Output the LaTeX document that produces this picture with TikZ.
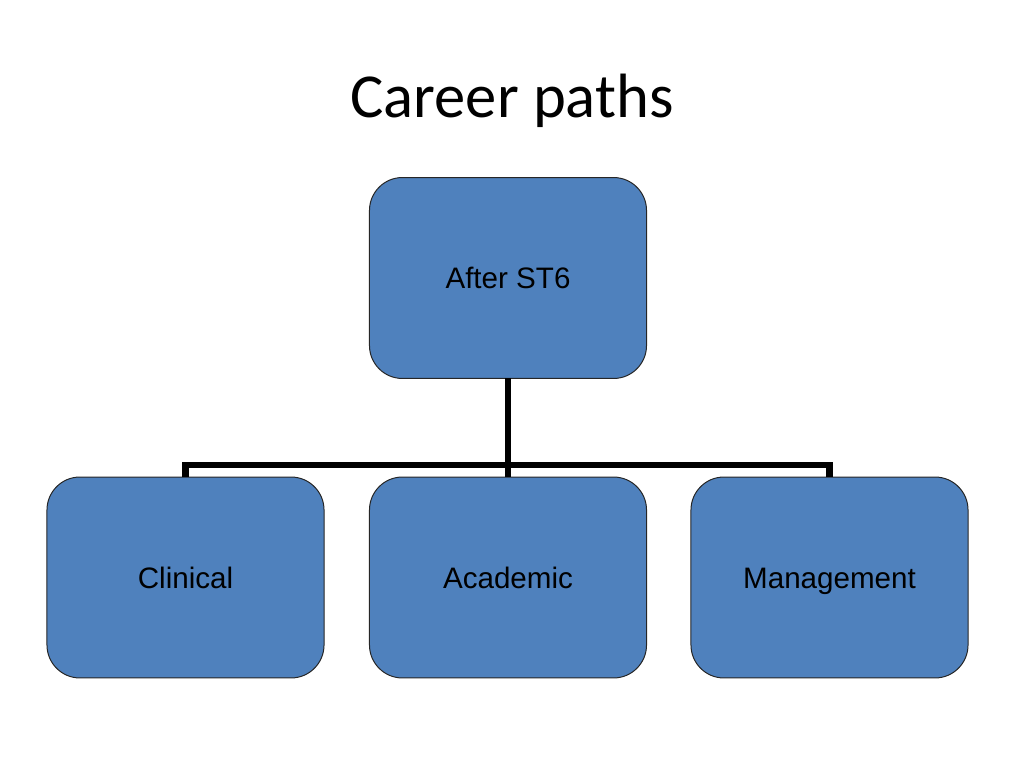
\documentclass[tikz,border=0pt]{standalone}
\usepackage{xcolor}
\usepackage{fontspec}
\setmainfont{Liberation Sans}
\newfontfamily\titlefont{Carlito}
\usepackage{tikz}

\definecolor{boxblue}{RGB}{79,129,189}

\begin{document}
\begin{tikzpicture}[x=0.703125pt,y=0.703125pt,yscale=-1,xscale=1,
    pathbox/.style={draw=black!85, line width=0.7pt, fill=boxblue, rounded corners=23.2pt,
        minimum width=194.8pt, minimum height=141.3pt, inner sep=0pt, outer sep=0pt,
        text height=15pt, text depth=0pt,
        font=\fontsize{20.8}{25}\selectfont},
    link/.style={line width=4.4pt, line join=miter}]
        \useasboundingbox (0,0) rectangle (1024,768);

        \draw (512,118) node [anchor=base][inner sep=0pt] (title) {\titlefont\fontsize{44}{53}\selectfont Career paths};

        \draw (508,278) node [pathbox] (after) {After ST6};
        \draw (185.5,577.5) node [pathbox] (clinical) {Clinical};
        \draw (508,577.5) node [pathbox] (academic) {Academic};
        \draw (829.5,577.5) node [pathbox] (management) {Management};

        \coordinate (bar) at (508,465);
        \draw [link] (after.south) -- (bar) -- (academic.north);
        \draw [link] (clinical.north) |- (bar) -| (management.north);
    \end{tikzpicture}
\end{document}
